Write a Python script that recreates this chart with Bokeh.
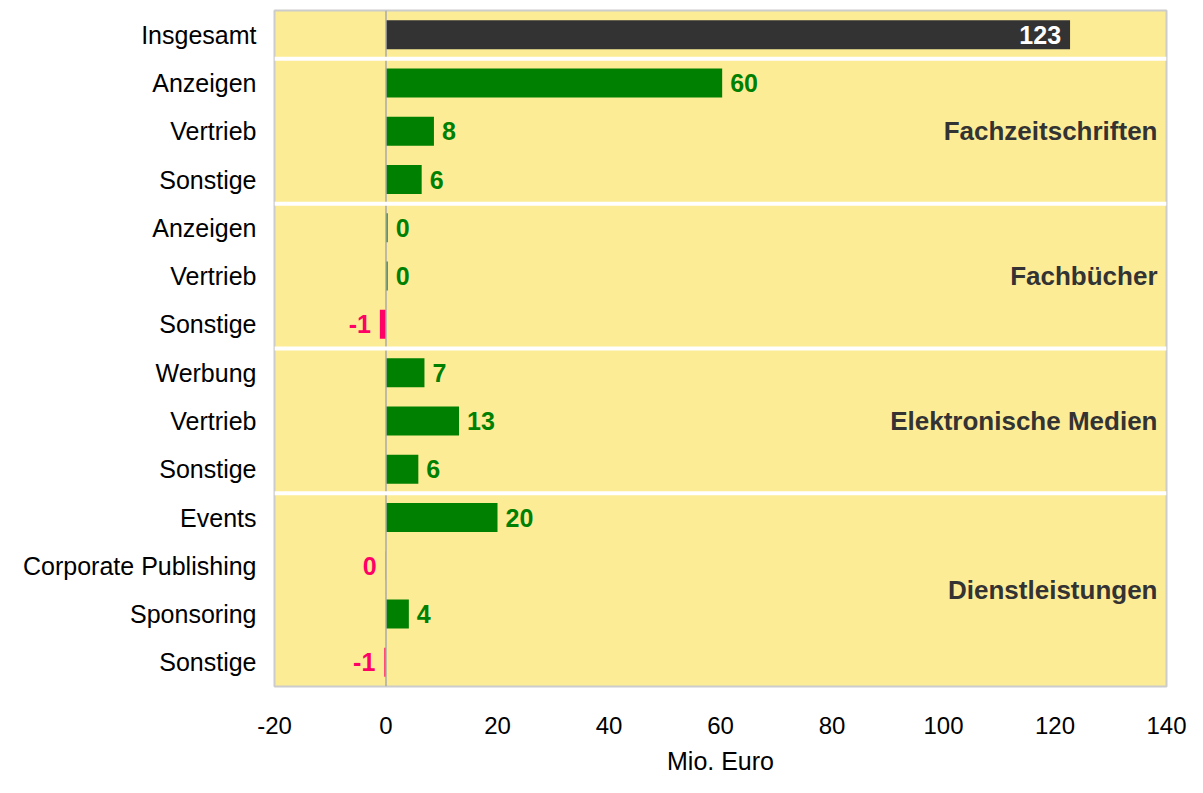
from bokeh.plotting import figure
from bokeh.models import ColumnDataSource, Range1d, FixedTicker, Span
from bokeh.core.properties import value
from bokeh.embed import file_html
from bokeh.resources import INLINE

# ---- data ----
categories = ["Insgesamt",
              "Anzeigen", "Vertrieb", "Sonstige",
              "Anzeigen", "Vertrieb", "Sonstige",
              "Werbung", "Vertrieb", "Sonstige",
              "Events", "Corporate Publishing", "Sponsoring", "Sonstige"]
values = [122.7,
          60.3, 8.6, 6.4,
          0.3, 0.3, -1.1,
          6.9, 13.1, 5.8,
          20.0, -0.05, 4.1, -0.3]
value_labels = ["123",
                "60", "8", "6",
                "0", "0", "-1",
                "7", "13", "6",
                "20", "0", "4", "-1"]
groups = ["", "Fachzeitschriften", "Fachzeitschriften", "Fachzeitschriften",
          "Fachbücher", "Fachbücher", "Fachbücher",
          "Elektronische Medien", "Elektronische Medien", "Elektronische Medien",
          "Dienstleistungen", "Dienstleistungen", "Dienstleistungen", "Dienstleistungen"]
group_names = ["Fachzeitschriften", "Fachbücher", "Elektronische Medien", "Dienstleistungen"]
x_ticks = [-20, 0, 20, 40, 60, 80, 100, 120, 140]

FONT = "Liberation Sans"
GREEN = "#008000"
NEG = "#FF0066"
DARK = "#333333"
BG = "#FDEC96"

n = len(categories)
rows = list(range(n))
colors = []
for i, v in enumerate(values):
    if i == 0:
        colors.append(DARK)
    elif v < 0:
        colors.append(NEG)
    else:
        colors.append(GREEN)

p = figure(width=1187, height=777, output_backend="svg", toolbar_location=None,
           x_range=Range1d(-20, 140), y_range=Range1d(n - 0.5, -0.5),
           min_border_left=274, min_border_right=21, min_border_top=10,
           min_border_bottom=85)
p.background_fill_color = BG
p.border_fill_color = "white"
p.outline_line_color = "#cccccc"
p.outline_line_width = 2
p.xgrid.visible = False
p.ygrid.visible = False

src = ColumnDataSource(dict(y=rows, right=values, color=colors))
p.hbar(y="y", left=0, right="right", height=0.6, fill_color="color",
       line_color=None, source=src)

# zero line
p.add_layout(Span(location=0, dimension="height", line_color="#aaaaaa", line_width=1.5))

# group separators
prev = groups[0]
for i in range(1, n):
    if groups[i] != prev:
        p.add_layout(Span(location=i - 0.5, dimension="width", line_color="white", line_width=4))
    prev = groups[i]

# value labels
pos_x, pos_y, pos_t = [], [], []
neg_x, neg_y, neg_t = [], [], []
for i in range(1, n):
    if values[i] < 0:
        neg_x.append(values[i]); neg_y.append(i); neg_t.append(value_labels[i])
    else:
        pos_x.append(values[i]); pos_y.append(i); pos_t.append(value_labels[i])

VFS = "25px"
p.text(x=pos_x, y=pos_y, text=pos_t, x_offset=8, text_align="left",
       text_baseline="middle", text_color=GREEN, text_font_style="bold",
       text_font_size=VFS, text_font=value(FONT))
p.text(x=neg_x, y=neg_y, text=neg_t, x_offset=-9, text_align="right",
       text_baseline="middle", text_color=NEG, text_font_style="bold",
       text_font_size=VFS, text_font=value(FONT))
p.text(x=[values[0]], y=[0], text=[value_labels[0]], x_offset=-9, text_align="right",
       text_baseline="middle", text_color="white", text_font_style="bold",
       text_font_size=VFS, text_font=value(FONT))

# group labels
gy = []
for g in group_names:
    idx = [i for i in range(n) if groups[i] == g]
    gy.append(sum(idx) / len(idx))
p.text(x=[140] * len(group_names), y=gy, text=group_names, x_offset=-9,
       text_align="right", text_baseline="middle", text_color="#333333",
       text_font_style="bold", text_font_size="26px", text_font=value(FONT))

# axes
p.yaxis.ticker = FixedTicker(ticks=rows)
p.yaxis.major_label_overrides = {i: categories[i] for i in rows}
p.yaxis.axis_line_color = None
p.yaxis.major_tick_line_color = None
p.yaxis.minor_tick_line_color = None
p.yaxis.major_tick_out = 0
p.yaxis.major_label_standoff = 18
p.yaxis.major_label_text_font = FONT
p.yaxis.major_label_text_font_size = "25px"
p.yaxis.major_label_text_color = "#000000"

p.xaxis.ticker = FixedTicker(ticks=x_ticks)
p.xaxis.major_label_overrides = {t: str(t) for t in x_ticks}
p.xaxis.axis_line_color = None
p.xaxis.major_tick_line_color = None
p.xaxis.minor_tick_line_color = None
p.xaxis.major_tick_out = 0
p.xaxis.major_label_standoff = 30
p.xaxis.major_label_text_font = FONT
p.xaxis.major_label_text_font_size = "24px"
p.xaxis.major_label_text_color = "#000000"
p.xaxis.axis_label = "Mio. Euro"
p.xaxis.axis_label_text_font = FONT
p.xaxis.axis_label_text_font_size = "25px"
p.xaxis.axis_label_text_font_style = "normal"
p.xaxis.axis_label_text_color = "#000000"
p.xaxis.axis_label_standoff = 10

open("out.html", "w").write(file_html(p, INLINE))
